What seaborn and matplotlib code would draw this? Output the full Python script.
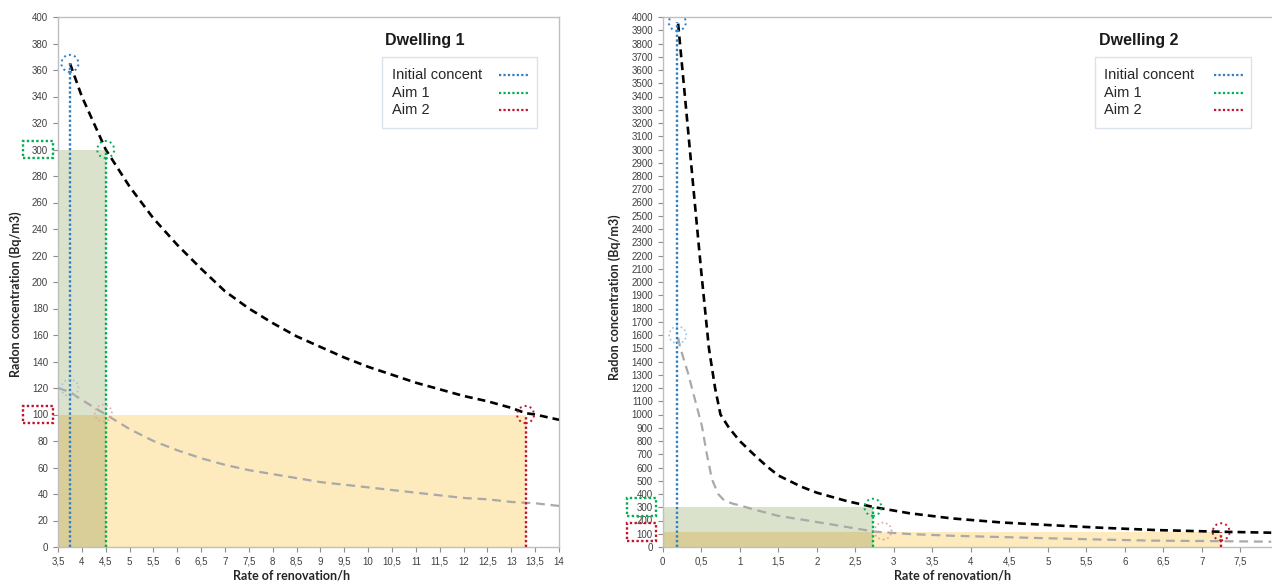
import numpy as np
import pandas as pd
import matplotlib
matplotlib.use("Agg")
import matplotlib.pyplot as plt
import matplotlib.transforms as mtrans
from matplotlib.lines import Line2D
from matplotlib.patches import Rectangle
import seaborn as sns

# ---------------- data ----------------
# Dwelling 1
d1_rate = [3.75, 4.0, 4.5, 5.0, 5.5, 6.0, 6.5, 7.0, 7.5, 8.0, 8.5, 9.0, 9.5, 10.0,
           10.5, 11.0, 11.5, 12.0, 12.5, 13.0, 13.3, 13.5, 14.0]
d1_conc = [365, 340, 300, 272, 248, 228, 210, 193, 180, 169, 159, 151, 143, 136,
           130, 124, 119, 114, 110, 105, 101, 100, 96]
d1_low_rate = [3.5, 3.75, 4.0, 4.5, 5.0, 5.5, 6.0, 6.5, 7.0, 7.5, 8.0, 8.5, 9.0, 9.5,
               10.0, 10.5, 11.0, 11.5, 12.0, 12.5, 13.0, 13.5, 14.0]
d1_low_conc = [120, 117, 111, 100, 89, 80, 73, 67, 62, 58, 55, 52, 49, 47,
               45, 43, 41, 39, 37, 36, 34, 33, 31]
d1_x_start = 3.5
d1_x_initial, d1_initial = 3.75, 365
d1_x_aim1, d1_aim1 = 4.5, 300
d1_x_aim2, d1_aim2 = 13.3, 100
d1_faint_points = [(3.75, 120, "initial"), (4.45, 101, "aim2")]

# Dwelling 2
d2_rate = [0.2, 0.3, 0.4, 0.5, 0.6, 0.68, 0.75, 0.86, 1.0, 1.18, 1.35, 1.5, 1.8, 2.0,
           2.4, 2.75, 3.2, 3.75, 4.4, 5.0, 5.7, 6.4, 7.25, 7.9]
d2_conc = [3950, 3330, 2700, 2080, 1500, 1200, 1000, 900, 800, 700, 610, 540, 455, 410,
           345, 300, 255, 216, 185, 166, 145, 128, 115, 108]
d2_low_rate = [0.2, 0.225, 0.33, 0.42, 0.51, 0.57, 0.64, 0.72, 0.8, 0.92, 1.0, 1.14,
               1.5, 1.88, 2.3, 2.75, 3.2, 3.75, 4.4, 5.06, 5.7, 6.36, 7.2, 7.9]
d2_low_conc = [1580, 1510, 1310, 1110, 910, 710, 510, 400, 350, 325, 315, 290,
               235, 200, 160, 116, 98, 85, 75, 65, 56, 48, 44, 40]
d2_x_start = 0.0
d2_x_initial, d2_initial = 0.19, 3960
d2_x_aim1, d2_aim1 = 2.73, 300
d2_x_aim2, d2_aim2 = 7.25, 115
d2_faint_points = [(0.195, 1600, "initial"), (2.86, 120, "aim2")]

legend_labels = ["Initial concent", "Aim 1", "Aim 2"]
titles = ["Dwelling 1", "Dwelling 2"]

d1_xticks = [3.5, 4, 4.5, 5, 5.5, 6, 6.5, 7, 7.5, 8, 8.5, 9, 9.5, 10, 10.5, 11,
             11.5, 12, 12.5, 13, 13.5, 14]
d1_xticklabels = ["3,5", "4", "4,5", "5", "5,5", "6", "6,5", "7", "7,5", "8", "8,5",
                  "9", "9,5", "10", "10,5", "11", "11,5", "12", "12,5", "13", "13,5", "14"]
d1_yticks = list(range(0, 401, 20))
d2_xticks = [0, 0.5, 1, 1.5, 2, 2.5, 3, 3.5, 4, 4.5, 5, 5.5, 6, 6.5, 7, 7.5]
d2_xticklabels = ["0", "0,5", "1", "1,5", "2", "2,5", "3", "3,5", "4", "4,5", "5",
                  "5,5", "6", "6,5", "7", "7,5"]
d2_yticks = list(range(0, 4001, 100))

xlabel = "Rate of renovation/h"
ylabel = "Radon concentration (Bq/m3)"

# ---------------- style ----------------
sns.set_theme(style="white")
plt.rcParams["font.family"] = ["Liberation Sans", "DejaVu Sans"]

C_BLUE = "#2f7fc1"
C_GREEN = "#00b050"
C_RED = "#c0142c"
C_BLUE_FAINT = "#9cc2e5"
C_RED_FAINT = "#e8a3a3"
C_FILL_GREEN = "#dbe2cc"
C_FILL_YELLOW = "#fdeabd"
C_FILL_OVER = "#d9cd98"
C_SPINE = "#bfbfbf"
DOT = (0, (1, 1))

W, H = 1272, 585
fig = plt.figure(figsize=(W / 100, H / 100), dpi=100)
AX_BOTTOM, AX_TOP = 547, 17
ax1_px = (58, 559)
ax2_px = (662.7, 1272)
ax1 = fig.add_axes([ax1_px[0] / W, (H - AX_BOTTOM) / H, (ax1_px[1] - ax1_px[0]) / W,
                    (AX_BOTTOM - AX_TOP) / H])
ax2 = fig.add_axes([ax2_px[0] / W, (H - AX_BOTTOM) / H, (ax2_px[1] - ax2_px[0]) / W,
                    (AX_BOTTOM - AX_TOP) / H])


def draw_panel(ax, axpx, rate, conc, low_rate, low_conc, x0, xi, ci, xa1, a1, xa2, a2,
               faint, xlim, ylim, xticks, xtl, yticks, title,
               box_px, title_px, text_x_px, line_px, row_y_px, tickbox_px, box_h,
               ylab_px, xlab_px, right_spine):
    def fx(px):
        return (px - axpx[0]) / (axpx[1] - axpx[0])

    def fy(py):
        return (AX_BOTTOM - py) / (AX_BOTTOM - AX_TOP)

    # shaded areas
    ax.fill_between([x0, xa1], [0, 0], [a1, a1], color=C_FILL_GREEN, lw=0, zorder=1)
    ax.fill_between([x0, xa2], [0, 0], [a2, a2], color=C_FILL_YELLOW, lw=0, zorder=1.1)
    ax.fill_between([x0, xa1], [0, 0], [a2, a2], color=C_FILL_OVER, lw=0, zorder=1.2)

    # curves
    df = pd.DataFrame({"rate": rate, "conc": conc})
    dfl = pd.DataFrame({"rate": low_rate, "conc": low_conc})
    sns.lineplot(data=dfl, x="rate", y="conc", ax=ax, color="#a9a9a9", lw=1.6,
                 linestyle=(0, (4, 2.6)), zorder=3, sort=False)
    sns.lineplot(data=df, x="rate", y="conc", ax=ax, color="black", lw=1.9,
                 linestyle=(0, (3, 1.9)), zorder=4, sort=False)

    # vertical dotted lines
    ax.vlines([xi], 0, [ci], colors=C_BLUE, linestyles=DOT, lw=1.7, zorder=5)
    ax.vlines([xa1], 0, [a1], colors=C_GREEN, linestyles=DOT, lw=1.7, zorder=5)
    ax.vlines([xa2], 0, [a2], colors=C_RED, linestyles=DOT, lw=1.7, zorder=5)

    # circles
    for px_, py_, col in [(xi, ci, C_BLUE), (xa1, a1, C_GREEN), (xa2, a2, C_RED)]:
        ax.scatter([px_], [py_], s=150, facecolors="none", edgecolors=col,
                   linestyles=":", linewidths=1.4, zorder=6)
    for fxp, fyp, kind in faint:
        ax.scatter([fxp], [fyp], s=150, facecolors="none",
                   edgecolors=C_BLUE_FAINT if kind == "initial" else C_RED_FAINT,
                   linestyles=":", linewidths=1.2, zorder=6)

    # dotted boxes around y tick labels
    tr = mtrans.blended_transform_factory(ax.transAxes, ax.transData)
    bx0, bx1 = fx(tickbox_px[0]), fx(tickbox_px[1])
    for val, col in [(a1, C_GREEN), (a2, C_RED)]:
        ax.add_patch(Rectangle((bx0, val - box_h / 2), bx1 - bx0, box_h,
                               transform=tr, fill=False, edgecolor=col,
                               linestyle=DOT, lw=1.7, clip_on=False, zorder=7))

    ax.set_xlim(*xlim)
    ax.set_ylim(*ylim)
    ax.set_xticks(xticks)
    ax.set_xticklabels(xtl)
    ax.set_yticks(yticks)
    ax.set_yticklabels([str(v) for v in yticks])
    ax.tick_params(axis="both", which="major", labelsize=7, colors="#8c8c8c",
                   length=3.5, width=0.8, direction="out", pad=3.6,
                   left=True, bottom=True)
    for lab in ax.get_xticklabels() + ax.get_yticklabels():
        lab.set_color("#404040")
    for s in ["left", "bottom", "top", "right"]:
        ax.spines[s].set_color(C_SPINE)
        ax.spines[s].set_linewidth(1.0)
    ax.spines["right"].set_visible(right_spine)

    ax.set_xlabel(xlabel, fontsize=9, fontweight="bold", color="#262626",
                  family=["Lato", "DejaVu Sans"])
    ax.set_ylabel(ylabel, fontsize=9, fontweight="bold", color="#262626",
                  family=["Lato", "DejaVu Sans"])
    ax.xaxis.set_label_coords(fx(xlab_px[0]), fy(xlab_px[1]))
    ax.yaxis.set_label_coords(fx(ylab_px[0]), fy(ylab_px[1]))

    # legend (text on the left, dotted sample on the right)
    ax.add_patch(Rectangle((fx(box_px[0]), fy(box_px[3])),
                           fx(box_px[1]) - fx(box_px[0]), fy(box_px[2]) - fy(box_px[3]),
                           transform=ax.transAxes, facecolor="white",
                           edgecolor="#dbe2ef", lw=1.0, zorder=9, clip_on=False))
    for lab, col, ry in zip(legend_labels, (C_BLUE, C_GREEN, C_RED), row_y_px):
        ax.text(fx(text_x_px), fy(ry), lab, transform=ax.transAxes, fontsize=10.5,
                color="#262626", va="center", ha="left", zorder=10)
        ax.add_line(Line2D([fx(line_px[0]), fx(line_px[1])], [fy(ry), fy(ry)],
                           transform=ax.transAxes, color=col, lw=1.6,
                           linestyle=DOT, zorder=10, clip_on=False))
    ax.text(fx(title_px[0]), fy(title_px[1]), title, transform=ax.transAxes,
            fontsize=11.5, fontweight="bold", color="#1a1a1a", va="center", ha="left")


draw_panel(ax1, ax1_px, d1_rate, d1_conc, d1_low_rate, d1_low_conc, d1_x_start,
           d1_x_initial, d1_initial, d1_x_aim1, d1_aim1, d1_x_aim2, d1_aim2,
           d1_faint_points, (3.5, 14), (0, 400), d1_xticks, d1_xticklabels,
           d1_yticks, titles[0],
           box_px=(381.5, 537, 57, 128), title_px=(385, 40), text_x_px=392,
           line_px=(499, 530), row_y_px=(75, 93, 110),
           tickbox_px=(23, 53), box_h=13, ylab_px=(22, 294),
           xlab_px=(292, 570), right_spine=True)

draw_panel(ax2, ax2_px, d2_rate, d2_conc, d2_low_rate, d2_low_conc, d2_x_start,
           d2_x_initial, d2_initial, d2_x_aim1, d2_aim1, d2_x_aim2, d2_aim2,
           d2_faint_points, (0, 7.91), (0, 4000), d2_xticks, d2_xticklabels,
           d2_yticks, titles[1],
           box_px=(1095, 1251, 57, 128), title_px=(1099, 40), text_x_px=1104,
           line_px=(1214, 1243), row_y_px=(75, 93, 110),
           tickbox_px=(627, 655.5), box_h=136, ylab_px=(621, 297),
           xlab_px=(953, 570), right_spine=False)

fig.savefig("out.png", dpi=100)
